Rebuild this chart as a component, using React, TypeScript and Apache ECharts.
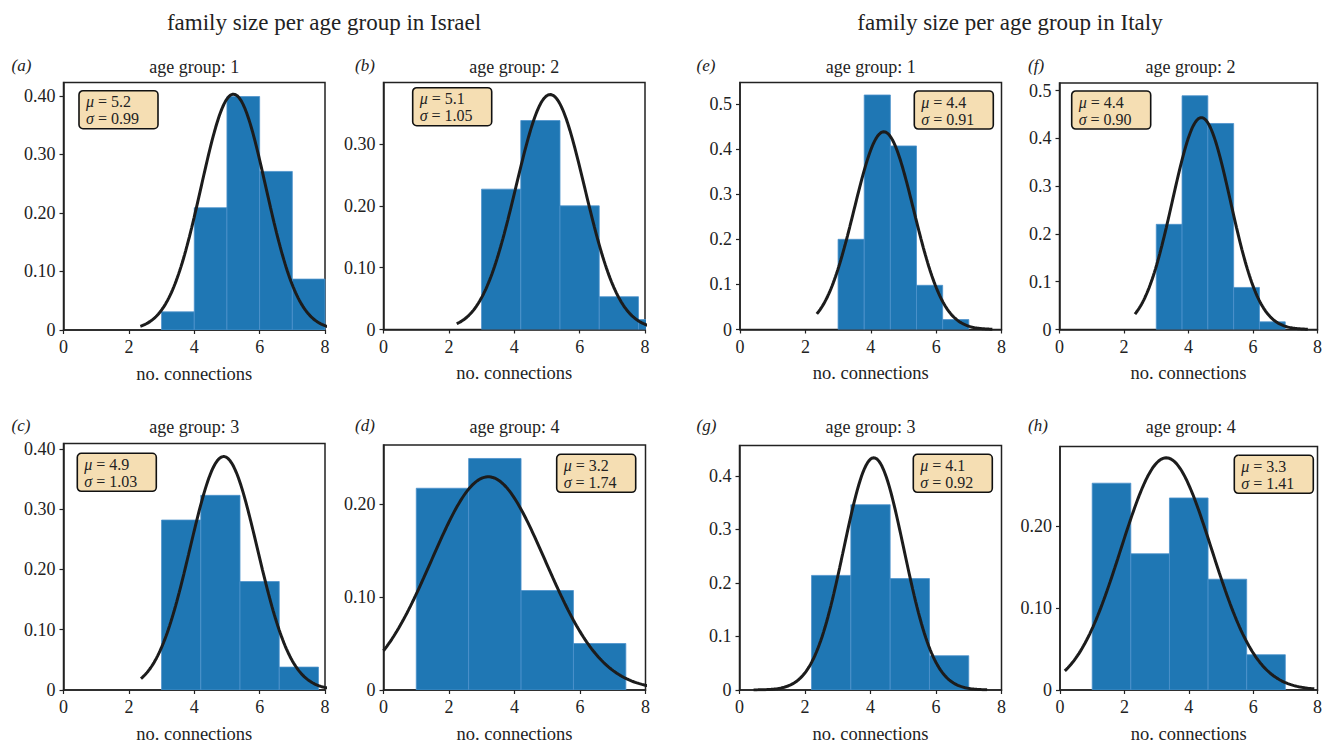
import React, { useEffect, useRef } from "react";
import * as echarts from "echarts";

// ---------- data ----------
const panelLetters = ["a", "b", "c", "d", "e", "f", "g", "h"];
const ageGroups = [1, 2, 3, 4, 1, 2, 3, 4];
const headers = ["family size per age group in Israel", "family size per age group in Italy"];

const mus = [5.2, 5.1, 4.9, 3.2, 4.4, 4.4, 4.1, 3.3];
const sigmas = [0.99, 1.05, 1.03, 1.74, 0.91, 0.9, 0.92, 1.41];

// histogram bin edges and densities per panel
const edgesA = [3, 4, 5, 6, 7, 8];
const heightsA = [0.031, 0.209, 0.399, 0.271, 0.087];
const edgesB = [3, 4.2, 5.4, 6.6, 7.8, 9.0];
const heightsB = [0.227, 0.338, 0.2, 0.053, 0.016];
const edgesC = [3, 4.2, 5.4, 6.6, 7.8];
const heightsC = [0.282, 0.323, 0.18, 0.038];
const edgesD = [1, 2.6, 4.2, 5.8, 7.4];
const heightsD = [0.217, 0.249, 0.107, 0.05];
const edgesE = [3, 3.8, 4.6, 5.4, 6.2, 7.0];
const heightsE = [0.2, 0.52, 0.407, 0.098, 0.022];
const edgesF = [3, 3.8, 4.6, 5.4, 6.2, 7.0];
const heightsF = [0.22, 0.489, 0.431, 0.088, 0.016];
const edgesG = [2.2, 3.4, 4.6, 5.8, 7.0];
const heightsG = [0.214, 0.346, 0.208, 0.064];
const edgesH = [1, 2.2, 3.4, 4.6, 5.8, 7.0];
const heightsH = [0.252, 0.166, 0.234, 0.135, 0.043];

const allEdges = [edgesA, edgesB, edgesC, edgesD, edgesE, edgesF, edgesG, edgesH];
const allHeights = [heightsA, heightsB, heightsC, heightsD, heightsE, heightsF, heightsG, heightsH];

// fitted-normal curve x range per panel
const curveStart = [2.35, 2.24, 2.37, 0, 2.35, 2.34, 0.43, 0.15];
const curveEnd = [8.2, 8.2, 8.2, 8.2, 7.72, 7.7, 7.56, 7.9];

// axes
const xTicks = [0, 2, 4, 6, 8];
const yMax = [0.423, 0.3995, 0.409, 0.2635, 0.5477, 0.5157, 0.4566, 0.2967];
const yDecimals = [2, 2, 2, 2, 1, 1, 1, 2];

// ---------- layout (pixels) ----------
const gridRects = [
  [63.5, 82.5, 261.5, 247.5],
  [383.5, 82.5, 261.5, 247],
  [63.5, 443.5, 261.5, 249],
  [383.5, 445, 262, 247.7],
  [740, 82.5, 261.5, 247],
  [1059.5, 83, 262, 246.5],
  [739.5, 445.5, 262, 247],
  [1060, 446.5, 261.5, 246],
];
const boxPos = [
  [79, 90.7],
  [412.7, 87.7],
  [77.3, 453.3],
  [556.7, 454.3],
  [914.3, 91],
  [1071.7, 91],
  [913.3, 454.3],
  [1234.3, 455.3],
];
const letterPos = [
  [11.5, 65],
  [355, 65],
  [11.5, 425],
  [355, 425],
  [696.5, 65],
  [1028, 65],
  [696.5, 425],
  [1028, 425],
];
const headerX = [324, 1010];

const FONT = "Liberation Serif";
const TXT = "#222";

function normalPdf(x: number, mu: number, s: number) {
  return Math.exp(-((x - mu) * (x - mu)) / (2 * s * s)) / (s * Math.sqrt(2 * Math.PI));
}

function buildOption() {
  const grid: any[] = [];
  const xAxis: any[] = [];
  const yAxis: any[] = [];
  const series: any[] = [];
  const graphic: any[] = [];

  headers.forEach((h, i) => {
    graphic.push({
      type: "text",
      x: headerX[i],
      y: 22,
      style: {
        text: h,
        fontSize: 23,
        fontFamily: FONT,
        fill: TXT,
        align: "center",
        verticalAlign: "middle",
      },
    });
  });

  for (let i = 0; i < 8; i++) {
    const [l, t, w, h] = gridRects[i];
    grid.push({
      left: l,
      top: t,
      width: w,
      height: h,
      show: true,
      borderColor: "#222",
      borderWidth: 1.5,
      backgroundColor: "transparent",
    });
    xAxis.push({
      type: "value",
      gridIndex: i,
      min: xTicks[0],
      max: xTicks[xTicks.length - 1],
      interval: xTicks[1] - xTicks[0],
      axisLine: { show: true, onZero: false, lineStyle: { color: "#222", width: 1.5 } },
      axisTick: { show: true, length: 4, lineStyle: { color: "#222", width: 1.2 } },
      axisLabel: { fontSize: 18, fontFamily: FONT, color: TXT, margin: 8 },
      splitLine: { show: false },
      name: "no. connections",
      nameLocation: "middle",
      nameGap: 34,
      nameTextStyle: { fontSize: 18.5, fontFamily: FONT, color: TXT },
    });
    const dec = yDecimals[i];
    yAxis.push({
      type: "value",
      gridIndex: i,
      min: 0,
      max: yMax[i],
      interval: 0.1,
      axisLine: { show: true, lineStyle: { color: "#222", width: 1.5 } },
      axisTick: { show: true, length: 4, lineStyle: { color: "#222", width: 1.2 } },
      axisLabel: {
        fontSize: 18,
        fontFamily: FONT,
        color: TXT,
        margin: 8,
        showMaxLabel: false,
        formatter: (v: number) => (Math.abs(v) < 1e-9 ? "0" : v.toFixed(dec)),
      },
      splitLine: { show: false },
    });

    const edges = allEdges[i];
    const hs = allHeights[i];
    const binData = hs.map((hv, k) => [edges[k], edges[k + 1], hv]);
    series.push({
      type: "custom",
      xAxisIndex: i,
      yAxisIndex: i,
      clip: true,
      z: 2,
      data: binData,
      renderItem: (params: any, api: any) => {
        const x0 = api.value(0);
        const x1 = api.value(1);
        const hv = api.value(2);
        const p0 = api.coord([x0, hv]);
        const p1 = api.coord([x1, 0]);
        return {
          type: "rect",
          shape: { x: p0[0], y: p0[1], width: p1[0] - p0[0], height: p1[1] - p0[1] },
          style: { fill: "#1f77b4", stroke: "#4d92cc", lineWidth: 0.8 },
        };
      },
    });

    const n = 160;
    const pts: number[][] = [];
    for (let k = 0; k <= n; k++) {
      const x = curveStart[i] + ((curveEnd[i] - curveStart[i]) * k) / n;
      pts.push([x, normalPdf(x, mus[i], sigmas[i])]);
    }
    series.push({
      type: "line",
      xAxisIndex: i,
      yAxisIndex: i,
      data: pts,
      showSymbol: false,
      symbol: "none",
      clip: true,
      z: 3,
      lineStyle: { color: "#1c1c1c", width: 3 },
    });

    // subplot title
    graphic.push({
      type: "text",
      x: l + w / 2,
      y: t < 200 ? 67 : 427,
      style: {
        text: `age group: ${ageGroups[i]}`,
        fontSize: 18,
        fontFamily: FONT,
        fill: TXT,
        align: "center",
        verticalAlign: "middle",
      },
    });

    // panel letter
    graphic.push({
      type: "text",
      x: letterPos[i][0],
      y: letterPos[i][1],
      style: {
        text: `(${panelLetters[i]})`,
        fontSize: 17,
        fontStyle: "italic",
        fontFamily: FONT,
        fill: TXT,
        align: "left",
        verticalAlign: "middle",
      },
    });

    // mu / sigma box
    const [bx, by] = boxPos[i];
    graphic.push({
      type: "group",
      x: bx,
      y: by,
      z: 10,
      children: [
        {
          type: "rect",
          shape: { x: 0, y: 0, width: 79, height: 38, r: 4 },
          style: { fill: "#f5deb3", stroke: "#111", lineWidth: 1.6 },
        },
        {
          type: "text",
          x: 7,
          y: 19.5,
          style: {
            text: `{i|μ} = ${mus[i].toFixed(1)}\n{i|σ} = ${sigmas[i].toFixed(2)}`,
            fontSize: 16,
            fontFamily: FONT,
            fill: TXT,
            lineHeight: 17,
            align: "left",
            verticalAlign: "middle",
            rich: {
              i: { fontStyle: "italic", fontSize: 16, fontFamily: FONT, fill: TXT, lineHeight: 17 },
            },
          },
        },
      ],
    });
  }

  return {
    animation: false,
    backgroundColor: "#fff",
    textStyle: { fontFamily: FONT },
    grid,
    xAxis,
    yAxis,
    series,
    graphic,
  };
}

export default function App() {
  const ref = useRef<HTMLDivElement>(null);
  useEffect(() => {
    if (!ref.current) return;
    const chart = echarts.init(ref.current, undefined, { renderer: "svg" });
    chart.setOption(buildOption() as any);
    return () => chart.dispose();
  }, []);
  return (
    <div
      ref={ref}
      style={{ position: "fixed", left: 0, top: 0, width: 1325, height: 744, background: "#fff" }}
    />
  );
}
